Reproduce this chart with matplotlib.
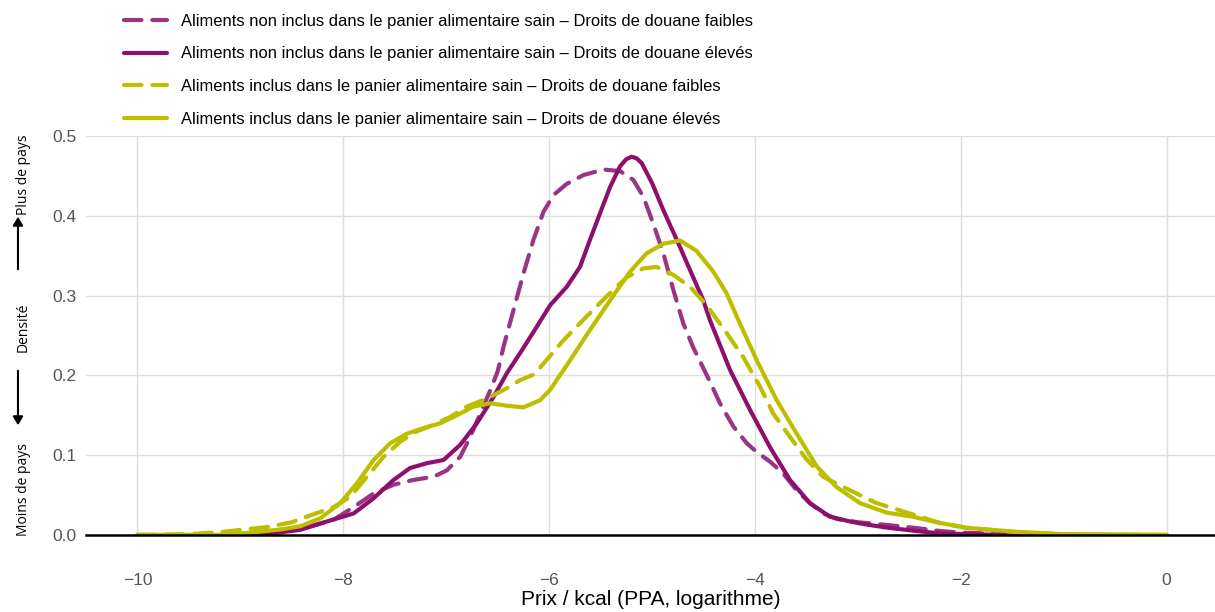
import matplotlib
matplotlib.use("Agg")
import matplotlib.pyplot as plt
from matplotlib.patches import FancyArrowPatch

plt.rcParams["font.family"] = ["Liberation Sans", "DejaVu Sans"]

# ─── Data ────────────────────────────────────────────────────────────────────
# non inclus – droits faibles (dashed purple)
x_npf = [-10, -9.2, -8.9, -8.6, -8.35, -8.094, -7.9, -7.706, -7.512, -7.318, -7.123,
         -6.994, -6.864, -6.767, -6.67, -6.573, -6.5, -6.443, -6.346, -6.249, -6.152,
         -6.055, -5.958, -5.829, -5.667, -5.473, -5.311, -5.182, -5.085, -4.988,
         -4.89, -4.793, -4.696, -4.6, -4.437, -4.34, -4.21, -4.08, -3.983, -3.854,
         -3.725, -3.595, -3.466, -3.337, -3.2, -3.0, -2.75, -2.45, -2.2, -2.0, -1.5,
         -1.0, 0]
y_npf = [0, 0, 0.001, 0.004, 0.010, 0.019, 0.035, 0.052, 0.063, 0.069, 0.073,
         0.081, 0.098, 0.123, 0.152, 0.181, 0.205, 0.236, 0.282, 0.328, 0.370,
         0.405, 0.426, 0.440, 0.451, 0.458, 0.456, 0.445, 0.424, 0.390,
         0.353, 0.307, 0.265, 0.235, 0.192, 0.165, 0.136, 0.115, 0.104, 0.092,
         0.077, 0.056, 0.040, 0.027, 0.020, 0.016, 0.013, 0.009, 0.005, 0.003, 0.001,
         0, 0]

# non inclus – droits élevés (solid purple)
x_npe = [-10, -9.0, -8.7, -8.417, -8.158, -7.9, -7.706, -7.512, -7.35, -7.188,
         -7.026, -6.864, -6.702, -6.54, -6.41, -6.282, -6.12, -5.99, -5.829, -5.7,
         -5.603, -5.506, -5.408, -5.311, -5.25, -5.198, -5.15, -5.1, -5.0, -4.89,
         -4.76, -4.631, -4.502, -4.437, -4.243, -4.049, -3.854, -3.66, -3.466,
         -3.272, -3.078, -2.91, -2.7, -2.43, -2.2, -1.94, -1.5, 0]
y_npe = [0, 0, 0.002, 0.0065, 0.017, 0.027, 0.046, 0.069, 0.084, 0.090,
         0.094, 0.113, 0.140, 0.173, 0.203, 0.228, 0.261, 0.288, 0.311, 0.336,
         0.370, 0.403, 0.436, 0.462, 0.471, 0.474, 0.472, 0.466, 0.441, 0.407,
         0.370, 0.332, 0.294, 0.269, 0.207, 0.157, 0.110, 0.069, 0.040,
         0.023, 0.017, 0.013, 0.009, 0.005, 0.002, 0.001, 0, 0]

# inclus – droits faibles (dashed olive)
x_if = [-10, -9.5, -9.17, -8.74, -8.5, -8.353, -8.094, -7.932, -7.77, -7.609,
        -7.447, -7.285, -7.123, -6.961, -6.799, -6.605, -6.41, -6.282, -6.152,
        -6.087, -5.861, -5.635, -5.441, -5.246, -5.085, -4.955, -4.793, -4.631,
        -4.47, -4.308, -4.114, -3.951, -3.822, -3.66, -3.5, -3.337, -3.17, -2.98,
        -2.82, -2.52, -2.2, -1.94, -1.5, -1.0, 0]
y_if = [0, 0.001, 0.004, 0.010, 0.016, 0.023, 0.035, 0.048, 0.073, 0.098,
        0.117, 0.130, 0.138, 0.148, 0.161, 0.171, 0.184, 0.194, 0.201,
        0.210, 0.244, 0.274, 0.299, 0.323, 0.334, 0.336, 0.326, 0.311,
        0.288, 0.259, 0.223, 0.186, 0.152, 0.123, 0.095, 0.073, 0.062, 0.050,
        0.040, 0.028, 0.015, 0.009, 0.004, 0.001, 0]

# inclus – droits élevés (solid olive)
x_ie = [-10, -9.2, -8.9, -8.61, -8.417, -8.223, -8.029, -7.867, -7.706, -7.544,
        -7.382, -7.22, -7.058, -6.896, -6.735, -6.573, -6.41, -6.249, -6.087,
        -5.99, -5.796, -5.603, -5.408, -5.214, -5.053, -4.89, -4.728, -4.567,
        -4.405, -4.276, -4.178, -3.983, -3.789, -3.595, -3.4, -3.207, -2.98,
        -2.72, -2.47, -2.2, -1.94, -1.46, -1.0, 0]
y_ie = [0, 0, 0.003, 0.007, 0.011, 0.021, 0.040, 0.065, 0.094, 0.115,
        0.127, 0.134, 0.140, 0.150, 0.161, 0.165, 0.162, 0.160, 0.169,
        0.182, 0.219, 0.257, 0.294, 0.330, 0.353, 0.365, 0.369, 0.356,
        0.330, 0.303, 0.274, 0.219, 0.169, 0.127, 0.086, 0.060, 0.040,
        0.028, 0.023, 0.015, 0.009, 0.004, 0.001, 0]

labels = [
    "Aliments non inclus dans le panier alimentaire sain – Droits de douane faibles",
    "Aliments non inclus dans le panier alimentaire sain – Droits de douane élevés",
    "Aliments inclus dans le panier alimentaire sain – Droits de douane faibles",
    "Aliments inclus dans le panier alimentaire sain – Droits de douane élevés",
]
x_ticks = [-10, -8, -6, -4, -2, 0]
y_ticks = [0.0, 0.1, 0.2, 0.3, 0.4, 0.5]

# ─── Colours ─────────────────────────────────────────────────────────────────
PURPLE_DASH = "#9A3586"
PURPLE      = "#8E0F6E"
OLIVE       = "#BDBE00"
DASHES      = (4.2, 2.6)

fig = plt.figure(figsize=(12.15, 6.12), dpi=100)
ax = fig.add_axes([0.0708, 0.1258, 0.9292, 0.652])

series = [
    (x_npf, y_npf, PURPLE_DASH, True),
    (x_npe, y_npe, PURPLE, False),
    (x_if, y_if, OLIVE, True),
    (x_ie, y_ie, OLIVE, False),
]
handles = []
for (xs, ys, col, dashed), lab in zip(series, labels):
    kw = dict(color=col, lw=3, label=lab, solid_capstyle="round",
              solid_joinstyle="round", zorder=3)
    if dashed:
        kw.update(dashes=DASHES, dash_capstyle="round", dash_joinstyle="round")
    h, = ax.plot(xs, ys, **kw)
    handles.append(h)

ax.set_xlim(-10.5, 0.47)
ax.set_ylim(0, 0.5)
ax.set_xticks(x_ticks)
ax.set_xticklabels([f"\u2212{abs(t)}" if t < 0 else str(t) for t in x_ticks])
ax.set_yticks(y_ticks)
ax.set_yticklabels([f"{t:.1f}" for t in y_ticks])
ax.tick_params(axis="both", length=0, labelsize=12.5, labelcolor="#555555")
ax.tick_params(axis="x", pad=27)
ax.tick_params(axis="y", pad=7)
ax.grid(True, color="#DDDDDD", lw=1)
ax.set_axisbelow(True)
for s in ("top", "right", "left"):
    ax.spines[s].set_visible(False)
ax.spines["bottom"].set_color("black")
ax.spines["bottom"].set_linewidth(1.8)
ax.spines["bottom"].set_zorder(4)
ax.set_xlabel("Prix / kcal (PPA, logarithme)", fontsize=15, labelpad=2)

fig.legend(handles=handles, loc="upper left", bbox_to_anchor=(0.0895, 1.002),
           frameon=False, fontsize=11.9, handlelength=2.6, handletextpad=0.9,
           labelspacing=1.07)

# ─── Left-hand annotation (density direction) ────────────────────────────────
fig.text(0.019, 1 - 175 / 612, "Plus de pays", rotation=90, ha="center",
         va="center", fontsize=10, family="Open Sans")
fig.text(0.019, 1 - 327 / 612, "Densité", rotation=90, ha="center",
         va="center", fontsize=10, family="Open Sans")
fig.text(0.019, 1 - 490 / 612, "Moins de pays", rotation=90, ha="center",
         va="center", fontsize=10, family="Open Sans")
fig.add_artist(FancyArrowPatch(
    (0.0148, 1 - 272 / 612), (0.0148, 1 - 214 / 612), transform=fig.transFigure,
    arrowstyle="-|>,head_length=5,head_width=3", color="black", lw=1.5))
fig.add_artist(FancyArrowPatch(
    (0.0148, 1 - 368 / 612), (0.0148, 1 - 428 / 612), transform=fig.transFigure,
    arrowstyle="-|>,head_length=5,head_width=3", color="black", lw=1.5))

fig.savefig("out.png", dpi=100)
